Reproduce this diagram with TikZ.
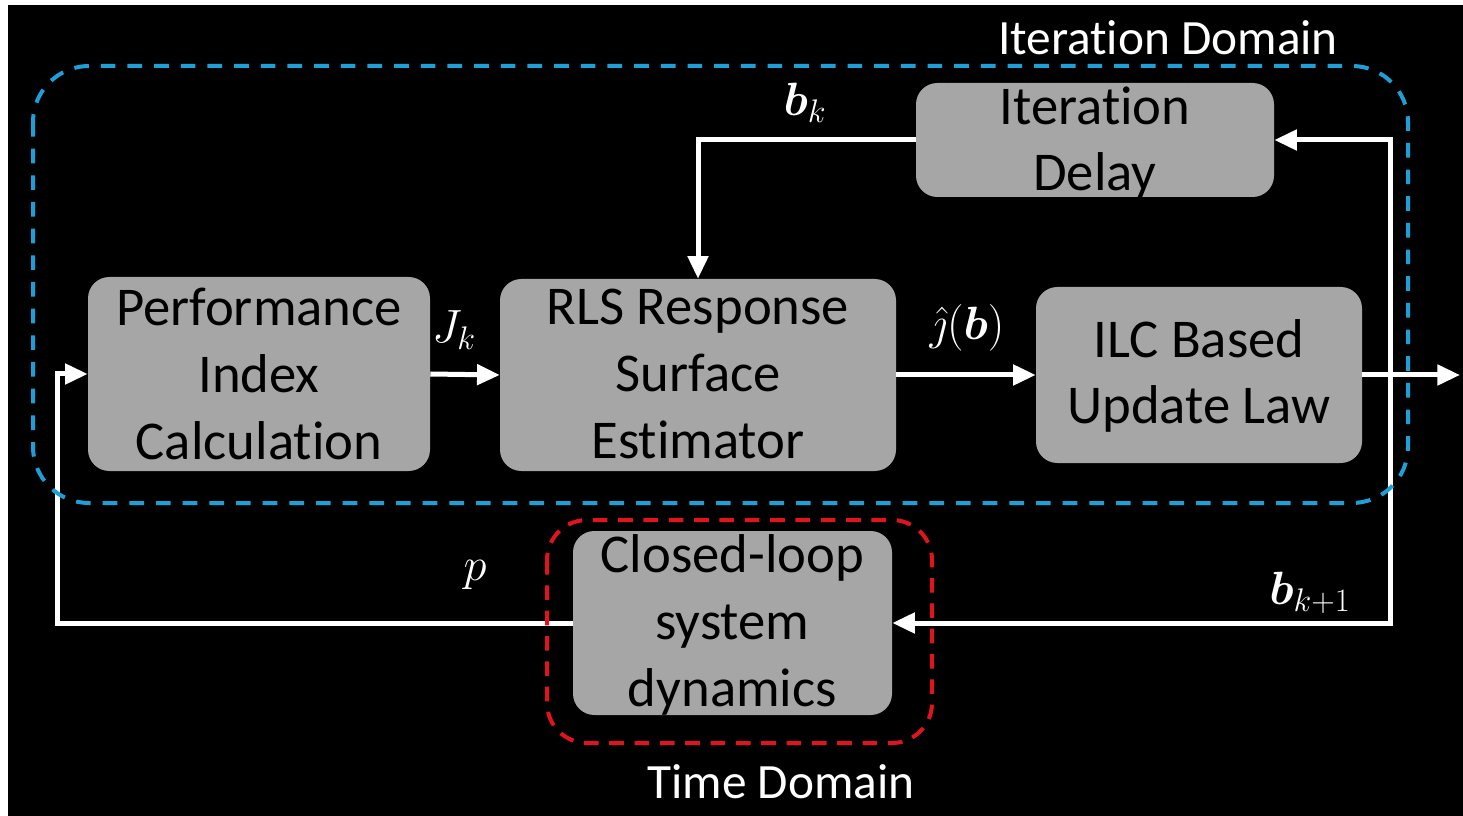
\RequirePackage{fix-cm}
\documentclass[tikz,border=0pt]{standalone}
\usepackage{amsmath,bm}
\usepackage{fontspec}
\setmainfont{Carlito}[Ligatures=NoCommon]
\usetikzlibrary{arrows.meta,calc}
\definecolor{boxgray}{RGB}{166,166,166}
\definecolor{domblue}{RGB}{28,160,215}
\definecolor{domred}{RGB}{225,20,30}
\tikzset{
  blk/.style={fill=boxgray, draw=none, rounded corners=16pt, inner sep=0pt},
  blktext/.style={text=black, align=center, font=\fontsize{41}{50}\selectfont, inner sep=0pt},
  arr/.style={draw=white, line width=3.75pt, -{Triangle[length=17pt,width=15pt]}},
  mlabel/.style={text=white, font=\fontsize{35}{40}\selectfont, inner sep=0pt},
  domlabel/.style={text=white, font=\fontsize{37}{42}\selectfont, inner sep=0pt},
  bluedash/.style={draw=domblue, line width=3pt, dash pattern=on 11pt off 9pt, rounded corners=42pt},
  reddash/.style={draw=domred, line width=3pt, dash pattern=on 11pt off 8pt, rounded corners=30pt}
}
\begin{document}
\begin{tikzpicture}[x=0.75pt,y=-0.75pt]
\useasboundingbox (0,0) rectangle (1463,816);
\fill[white] (0,0) rectangle (1463,816);
\fill[black] (8,5) rectangle (1463,816);

% boxes
\node[blk, minimum width=358*0.75pt, minimum height=114*0.75pt] (delay) at (1095,140) {};
\node[blktext] at (1095,143) {Iteration\\Delay};
\node[blk, minimum width=342*0.75pt, minimum height=194*0.75pt] (perf) at (259,374) {};
\node[blktext] at (259,374) {Performance\\Index\\Calculation};
\node[blk, minimum width=396*0.75pt, minimum height=192*0.75pt] (rls) at (698,375) {};
\node[blktext] at (698,374) {RLS Response\\Surface\\Estimator};
\node[blk, minimum width=326*0.75pt, minimum height=176*0.75pt] (ilc) at (1199,375) {};
\node[blktext] at (1199,376) {ILC Based\\Update Law};
\node[blk, minimum width=319*0.75pt, minimum height=184*0.75pt] (cl) at (732.5,623) {};
\node[blktext] at (732.5,625) {Closed-loop\\system\\dynamics};

% connector points
\coordinate (jn) at (1390,375);
\coordinate (out) at (1460,375);
\coordinate (pl) at (57,374);

% connectors
\draw[arr] (perf.east) -- (rls.west);
\draw[arr] (rls.east) -- (ilc.west);
\draw[arr] (ilc.east) -- (out);
\draw[arr] (jn) |- (delay.east);
\draw[arr] (jn) |- (cl.east);
\draw[arr] (delay.west) -| (rls.north);
\draw[arr] (cl.west) -| (pl) -- (perf.west);

% labels
\node[mlabel] (lj) at (454,330) {$J_k$};
\node[mlabel] (lhat) at (967,328) {$\hat{\jmath}(\bm{b})$};
\node[mlabel] (lbk) at (805,103) {$\bm{b}_k$};
\node[mlabel] (lbk1) at (1310,593) {$\bm{b}_{k+1}$};
\node[mlabel] (lp) at (475,575) {$p$};

% domains
\draw[bluedash] (33,66) rectangle (1408,503);
\draw[reddash] (547,520) rectangle (932,743);
\node[domlabel] (itd) at (1168,38) {Iteration Domain};
\node[domlabel] (tdd) at (781,782) {Time Domain};
\end{tikzpicture}
\end{document}
